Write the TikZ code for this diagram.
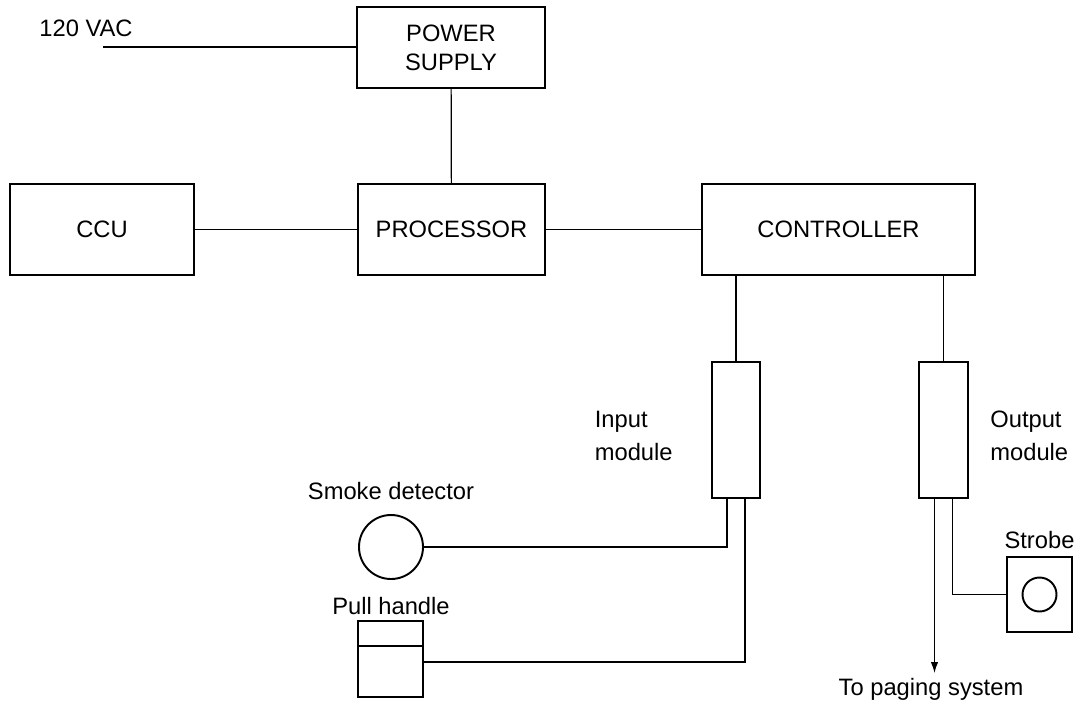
\documentclass[tikz,border=0pt]{standalone}
\usepackage{fontspec}
\setmainfont{Liberation Sans}
\usepackage{tikz}
\usetikzlibrary{arrows.meta,positioning,calc}

\begin{document}
\begin{tikzpicture}[
 font=\fontsize{13.5}{16.5}\selectfont,
 unit/.style={draw,line width=1.1pt,minimum width=3.74cm,minimum height=1.82cm,
 align=center,inner sep=0pt},
 module/.style={draw,line width=1.1pt,minimum width=0.97cm,minimum height=2.72cm,inner sep=0pt},
 lbl/.style={inner sep=0pt,font=\fontsize{13.5}{18.5}\selectfont},
 wire/.style={line width=0.7pt},
 arr/.style={wire,-{Latex[length=2.2mm,width=1.5mm]}}]
 \useasboundingbox (0,0) rectangle (21.56,-14.08);
 % main units
 \node[unit,minimum height=1.62cm,minimum width=3.76cm] (psu) at (9.02,-0.95) {POWER\\SUPPLY};
 \node[unit,minimum width=3.68cm] (ccu) at (2.04,-4.59) {CCU};
 \node[unit] (proc) at (9.03,-4.59) {PROCESSOR};
 \node[unit,minimum width=5.46cm] (ctrl) at (16.77,-4.59) {CONTROLLER};
 \node[lbl] (vac) at (1.72,-0.57) {120 VAC};
 \coordinate (acin) at (2.06,-0.94);
 % modules
 \node[module] (inmod) at (14.72,-8.6) {};
 \node[module] (outmod) at (18.87,-8.6) {};
 \node[lbl,align=left,anchor=east] (inlbl) at (13.46,-8.72) {Input\\module};
 \node[lbl,align=left,anchor=west] (outlbl) at (19.8,-8.72) {Output\\module};
 % field devices
 \node[draw,circle,line width=1.1pt,minimum size=1.28cm] (smoke) at (7.82,-10.94) {};
 \node[lbl] (smokelbl) at (7.82,-9.82) {Smoke detector};
 \node[draw,line width=1.1pt,minimum width=1.3cm,minimum height=1.52cm] (pull) at (7.81,-13.18) {};
 \node[lbl] (pulllbl) at (7.82,-12.12) {Pull handle};
 \node[draw,line width=1.1pt,minimum width=1.3cm,minimum height=1.5cm] (strobe) at (20.79,-11.89) {};
 \node[draw,circle,line width=1.1pt,minimum size=0.68cm] (lamp) at (strobe.center) {};
 \node[lbl] (strobelbl) at (20.79,-10.8) {Strobe};
 \node[lbl] (paging) at (18.62,-13.78) {To paging system};
 \coordinate (pgend) at (18.69,-13.46);
 \draw[line width=1.1pt] ($(pull.north west)+(0,-0.52)$)--($(pull.north east)+(0,-0.52)$);
 % connections
 \draw[wire] (acin)--(acin -| psu.west);
 \draw[wire] (psu)--(proc);
 \draw[wire] (ccu)--(proc);
 \draw[wire] (proc)--(ctrl);
 \draw[line width=1.1pt] (inmod.north)--(inmod.north |- ctrl.south);
 \draw[wire] (outmod.north)--(outmod.north |- ctrl.south);
 \draw[wire] ($(inmod.south)+(-0.18,0)$) |- (smoke.east);
 \draw[wire] ($(inmod.south)+(0.18,0)$) |- ($(pull.east)+(0,-0.06)$);
 \draw[wire] ($(outmod.south)+(0.18,0)$) |- (strobe.west);
 \draw[arr] ($(outmod.south)+(-0.18,0)$)--(pgend);
\end{tikzpicture}
\end{document}
